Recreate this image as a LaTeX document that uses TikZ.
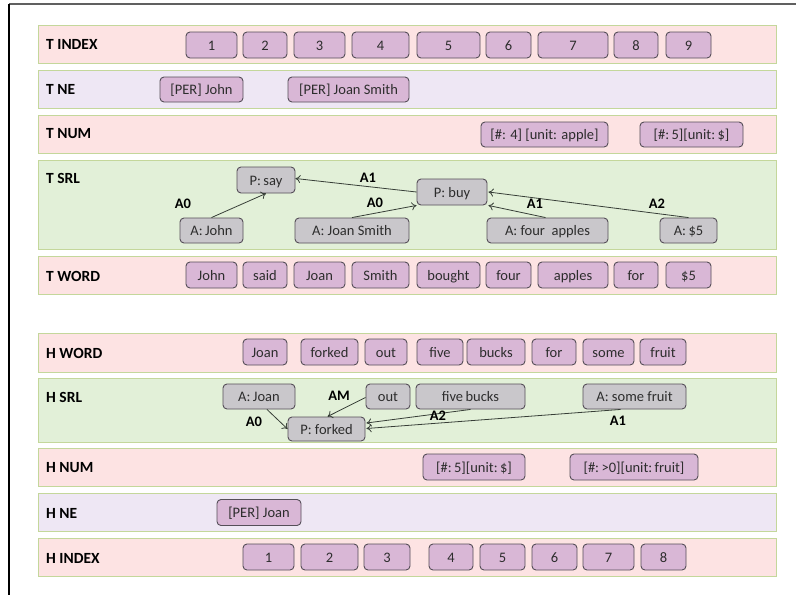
\documentclass[tikz,border=0pt]{standalone}
\usepackage{fontspec}
\setmainfont{Carlito}
\usetikzlibrary{arrows.meta,calc}
\definecolor{bandpink}{RGB}{253,227,227}
\definecolor{bandlav}{RGB}{238,231,244}
\definecolor{bandgreen}{RGB}{226,240,216}
\definecolor{bandline}{RGB}{196,215,155}
\definecolor{boxpurple}{RGB}{217,183,214}
\definecolor{boxgray}{RGB}{201,199,203}
\definecolor{boxline}{RGB}{85,78,88}
\definecolor{boxtext}{RGB}{45,45,45}
\definecolor{relline}{RGB}{55,62,55}
\tikzset{
  band/.style={draw=bandline, line width=1pt, minimum width=738pt, inner sep=0pt, rectangle},
  lbl/.style={anchor=west, font=\fontsize{15.5}{18}\selectfont\bfseries, inner sep=0pt},
  wbox/.style={draw=boxline, fill=boxpurple, rounded corners=4pt, line width=0.9pt, inner sep=0pt,
     minimum height=26pt, text=boxtext, text height=11.5pt, text depth=1.5pt, font=\fontsize{14.5}{17}\selectfont},
  gbox/.style={wbox, fill=boxgray},
  rel/.style={draw=relline, line width=0.8pt, -{To[length=5pt,width=8pt]}},
  elab/.style={font=\fontsize{14.5}{17}\selectfont\bfseries, inner sep=0pt},
}
\begin{document}
\begin{tikzpicture}[x=1pt,y=-1pt]
\useasboundingbox (0,0) rectangle (796,595);
\fill[white] (0,0) rectangle (796,595);
% frame
\draw[gray!75!black, line width=1.5pt] (9,4) -- (796,4);
\draw[black, line width=1.2pt] (9,4) -- (9,595);

% bands
\node[band, fill=bandpink,  minimum height=38pt] (bTI) at (407,44) {};
\node[band, fill=bandlav,   minimum height=38pt] (bTN) at (407,89) {};
\node[band, fill=bandpink,  minimum height=38pt] (bTU) at (407,134) {};
\node[band, fill=bandgreen, minimum height=89pt] (bTS) at (407,204.5) {};
\node[band, fill=bandpink,  minimum height=38pt] (bTW) at (407,275) {};
\node[band, fill=bandpink,  minimum height=39pt] (bHW) at (407,352.5) {};
\node[band, fill=bandgreen, minimum height=64pt] (bHS) at (407,410) {};
\node[band, fill=bandpink,  minimum height=38pt] (bHU) at (407,467) {};
\node[band, fill=bandlav,   minimum height=38pt] (bHN) at (407,512) {};
\node[band, fill=bandpink,  minimum height=38pt] (bHI) at (407,557) {};

% band labels
\node[lbl] (lTI) at (46,44) {T INDEX};
\node[lbl] (lTN) at (46,89) {T NE};
\node[lbl] (lTU) at (46,134) {T NUM};
\node[lbl] (lTS) at (46,178) {T SRL};
\node[lbl] (lTW) at (46,276) {T WORD};
\node[lbl] (lHW) at (46,353) {H WORD};
\node[lbl] (lHS) at (46,397) {H SRL};
\node[lbl] (lHU) at (46,468) {H NUM};
\node[lbl] (lHN) at (46,513) {H NE};
\node[lbl] (lHI) at (46,558) {H INDEX};

% T INDEX
\node[wbox, minimum width=51pt] (ti1) at (211.5,45) {1};
\node[wbox, minimum width=44pt] (ti2) at (265,45) {2};
\node[wbox, minimum width=51pt] (ti3) at (319.5,45) {3};
\node[wbox, minimum width=57pt] (ti4) at (380.5,45) {4};
\node[wbox, minimum width=63pt] (ti5) at (448.5,45) {5};
\node[wbox, minimum width=45pt] (ti6) at (508.5,45) {6};
\node[wbox, minimum width=70pt] (ti7) at (573,45) {7};
\node[wbox, minimum width=44pt] (ti8) at (636,45) {8};
\node[wbox, minimum width=45pt] (ti9) at (688.5,45) {9};

% T NE
\node[wbox, minimum width=83pt, minimum height=25pt] (tn1) at (201.5,89.5) {[PER] John};
\node[wbox, minimum width=121pt, minimum height=25pt] (tn2) at (348.5,89.5) {[PER] Joan Smith};

% T NUM
\node[wbox, minimum width=127pt, minimum height=25pt] (tu1) at (544.5,134.5) {[\#: 4] [unit: apple]};
\node[wbox, minimum width=103pt, minimum height=25pt] (tu2) at (691.5,134.5) {[\#:\,5][unit:\,\$]};

% T SRL
\node[gbox, minimum width=58pt] (psay) at (266,180) {P:\,say};
\node[gbox, minimum width=70pt] (pbuy) at (452,192) {P: buy};
\node[gbox, minimum width=63pt, minimum height=25pt] (ajohn) at (211.5,230.5) {A:\,John};
\node[gbox, minimum width=114pt, minimum height=25pt] (ajs) at (352,230.5) {A: Joan Smith};
\node[gbox, minimum width=121pt, minimum height=25pt] (afa) at (547.5,230.5) {A: four\ \ apples};
\node[gbox, minimum width=57pt, minimum height=25pt] (adol) at (688.5,230.5) {A:\,\$5};

\draw[rel] (ajohn.north) -- (psay.south);
\draw[rel] (pbuy.west) -- ([yshift=1.5pt]psay.east);
\draw[rel] (ajs.north) -- (pbuy.south west);
\draw[rel] ([xshift=-2pt]afa.north) -- ([xshift=1pt]pbuy.south east);
\draw[rel] (adol.north) -- ([xshift=1pt]pbuy.east);

\node[elab] (e1) at (183,204) {A0};
\node[elab] (e2) at (368,178) {A1};
\node[elab] (e3) at (375,203) {A0};
\node[elab] (e4) at (535,204) {A1};
\node[elab] (e5) at (657,204) {A2};

% T WORD
\node[wbox, minimum width=51pt] (tw1) at (211.5,275) {John};
\node[wbox, minimum width=44pt] (tw2) at (265,275) {said};
\node[wbox, minimum width=51pt] (tw3) at (319.5,275) {Joan};
\node[wbox, minimum width=57pt] (tw4) at (380.5,275) {Smith};
\node[wbox, minimum width=63pt] (tw5) at (448.5,275) {bought};
\node[wbox, minimum width=45pt] (tw6) at (508.5,275) {four};
\node[wbox, minimum width=70pt] (tw7) at (573,275) {apples};
\node[wbox, minimum width=44pt] (tw8) at (636,275) {for};
\node[wbox, minimum width=45pt] (tw9) at (688.5,275) {\$5};

% H WORD
\node[wbox, minimum width=44pt] (hw1) at (265,352) {Joan};
\node[wbox, minimum width=57pt] (hw2) at (329.5,352) {forked};
\node[wbox, minimum width=42pt] (hw3) at (386,352) {out};
\node[wbox, minimum width=46pt] (hw4) at (440,352) {five};
\node[wbox, minimum width=58pt] (hw5) at (496,352) {bucks};
\node[wbox, minimum width=44pt] (hw6) at (554,352) {for};
\node[wbox, minimum width=51pt] (hw7) at (608.5,352) {some};
\node[wbox, minimum width=46pt] (hw8) at (663,352) {fruit};

% H SRL
\node[gbox, minimum width=72pt, minimum height=25pt] (hjoan) at (259,396.5) {A:\,Joan};
\node[gbox, minimum width=44pt, minimum height=25pt] (hout) at (388,396.5) {out};
\node[gbox, minimum width=109pt, minimum height=25pt] (hfb) at (470.5,396.5) {five\,bucks};
\node[gbox, minimum width=103pt, minimum height=25pt] (hsf) at (634.5,396.5) {A: some fruit};
\node[gbox, minimum width=77pt, minimum height=24pt] (pforked) at (326.5,429) {P: forked};

\draw[rel] ([xshift=8pt]hjoan.south) -- (pforked.west);
\draw[rel] ([yshift=-1pt]hout.west) -- ([xshift=1pt]pforked.north);
\draw[rel] (hfb.south) -- ([xshift=1pt,yshift=6pt]pforked.east);
\draw[rel] ([xshift=-14pt]hsf.south) -- ([xshift=1pt,yshift=0.5pt]pforked.east);

\node[elab] (f1) at (254,422) {A0};
\node[elab] (f2) at (339,396) {AM};
\node[elab] (f3) at (438,416) {A2};
\node[elab] (f4) at (618,421) {A1};

% H NUM
\node[wbox, minimum width=102pt] (hu1) at (474,467) {[\#:\,5][unit:\,\$]};
\node[wbox, minimum width=128pt] (hu2) at (634,467) {[\#:\,>0][unit:\,fruit]};

% H NE
\node[wbox, minimum width=84pt] (hn1) at (259,512.5) {[PER] Joan};

% H INDEX
\node[wbox, minimum width=51pt] (hi1) at (268.5,557) {1};
\node[wbox, minimum width=57pt] (hi2) at (329.5,557) {2};
\node[wbox, minimum width=46pt] (hi3) at (387,557) {3};
\node[wbox, minimum width=44pt] (hi4) at (451,557) {4};
\node[wbox, minimum width=45pt] (hi5) at (502.5,557) {5};
\node[wbox, minimum width=45pt] (hi6) at (554.5,557) {6};
\node[wbox, minimum width=51pt] (hi7) at (608.5,557) {7};
\node[wbox, minimum width=45pt] (hi8) at (663.5,557) {8};
\end{tikzpicture}
\end{document}
